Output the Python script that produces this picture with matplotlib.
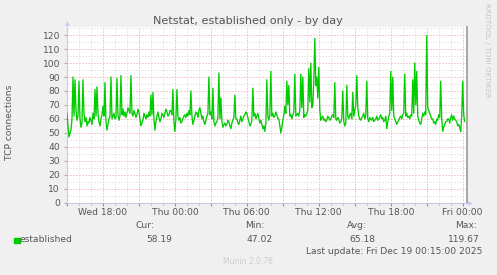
import datetime as dt
import matplotlib
matplotlib.use("Agg")
import matplotlib.pyplot as plt
import matplotlib.dates as mdates
from matplotlib.ticker import MultipleLocator, FuncFormatter

W, H = 497, 275

# data: established TCP connections, one sample every 5 minutes
start = dt.datetime(2025, 12, 17, 15, 0)
step_min = 5
established = [
    64, 55, 47.02, 50, 52, 60, 90, 62, 88, 66, 59, 62, 87, 60, 54, 57, 88, 64, 58, 61,
    55, 58, 57, 61, 59, 56, 64, 60, 81, 62, 83, 64, 58, 55, 60, 63, 69, 62, 86, 58,
    52, 56, 60, 62, 90, 60, 62, 64, 60, 61, 89, 63, 59, 62, 91, 63, 67, 62, 65, 61,
    64, 68, 66, 64, 91, 64, 62, 66, 64, 61, 63, 67, 65, 60, 55, 57, 59, 64, 62, 60,
    63, 61, 65, 62, 77, 63, 79, 60, 52, 58, 62, 65, 61, 58, 60, 64, 63, 61, 64, 67,
    65, 62, 63, 66, 66, 63, 81, 58, 51, 60, 81, 62, 59, 61, 57, 58, 60, 62, 63, 61,
    64, 62, 66, 63, 80, 62, 56, 59, 62, 65, 64, 61, 66, 68, 64, 60, 62, 58, 56, 59,
    62, 64, 90, 63, 65, 60, 82, 58, 55, 57, 58, 61, 93, 60, 75, 58, 54, 56, 57, 55,
    56, 59, 58, 55, 53, 57, 59, 61, 77, 60, 60, 57, 56, 59, 62, 58, 60, 62, 63, 65,
    64, 61, 58, 55, 56, 59, 82, 62, 64, 60, 62, 64, 60, 57, 59, 56, 53, 55, 51, 57,
    88, 62, 59, 63, 94, 62, 64, 61, 62, 65, 63, 60, 60, 55, 50, 54, 59, 63, 69, 64,
    87, 70, 84, 62, 63, 60, 63, 65, 92, 62, 63, 64, 62, 66, 92, 68, 90, 61, 63, 62,
    64, 66, 96, 72, 100, 68, 70, 88, 117.5, 84, 90, 75, 97, 66, 59, 61, 62, 59, 60, 58,
    59, 62, 61, 59, 60, 62, 63, 61, 86, 60, 59, 61, 60, 57, 58, 60, 80, 58, 55, 57,
    84, 62, 60, 63, 64, 60, 79, 62, 66, 70, 91, 68, 62, 60, 59, 61, 62, 64, 60, 62,
    87, 60, 58, 61, 60, 59, 61, 58, 59, 60, 62, 59, 60, 61, 63, 60, 61, 58, 59, 62,
    53, 58, 62, 64, 94, 66, 90, 62, 60, 58, 56, 58, 59, 61, 62, 60, 63, 64, 92, 62,
    64, 61, 62, 60, 63, 62, 88, 64, 100, 70, 94, 62, 59, 57, 56, 60, 64, 62, 65, 63,
    119.67, 68, 66, 64, 62, 60, 60, 57, 58, 56, 60, 59, 63, 61, 87, 60, 51, 54, 56, 58,
    58, 60, 60, 57, 61, 63, 59, 62, 60, 59, 58, 55, 56, 54, 51, 62, 87, 63, 58.19,
]
times = [start + dt.timedelta(minutes=step_min * i) for i in range(len(established))]

title = "Netstat, established only - by day"
ylabel = "TCP connections"
series_name = "established"
stat_names = ["Cur:", "Min:", "Avg:", "Max:"]
stat_values = ["58.19", "47.02", "65.18", "119.67"]
last_update = "Last update: Fri Dec 19 00:15:00 2025"

txt = "#555555"
fs = 6.6

fig = plt.figure(figsize=(W / 100, H / 100), dpi=100, facecolor="#F0F0F0")
ax = fig.add_axes([67 / W, 1 - 202.7 / H, 399.7 / W, 175.7 / H])
ax.set_facecolor("white")

ax.plot(times, established, color="#00CC00", lw=0.95, zorder=3)
ax.set_xlim(start, start + dt.timedelta(minutes=5 * 400))
ax.set_ylim(0, 125.8)

ax.xaxis.set_major_locator(mdates.HourLocator(byhour=range(0, 24, 3)))
ax.xaxis.set_minor_locator(mdates.HourLocator())


def xfmt(x, pos):
    d = mdates.num2date(x)
    return d.strftime("%a %H:%M") if d.hour % 6 == 0 else ""


ax.xaxis.set_major_formatter(FuncFormatter(xfmt))
ax.yaxis.set_major_locator(MultipleLocator(10))
ax.yaxis.set_minor_locator(MultipleLocator(5))

ax.set_axisbelow(True)
ax.grid(which="minor", color="#D4D4D4", linestyle=(0, (1, 2)), lw=0.72)
ax.grid(which="major", color="#EE9A9A", linestyle=(0, (1, 2)), lw=0.72)

ax.tick_params(which="both", direction="out", labelsize=fs, labelcolor=txt)
ax.tick_params(axis="x", which="major", length=2, color="#E07070", pad=2)
ax.tick_params(axis="x", which="minor", length=1.5, color="#BBBBBB")
ax.tick_params(axis="y", which="major", length=2, color="#AAAAAA", pad=3)
ax.tick_params(axis="y", which="minor", length=0)

ax.spines["top"].set_visible(False)
ax.spines["right"].set_color("#999999")
ax.spines["right"].set_linewidth(1.2)
for s in ("left", "bottom"):
    ax.spines[s].set_color("#C8C8F0")
    ax.spines[s].set_linewidth(0.8)

ax.plot([0], [1.022], marker="^", ms=3.5, color="#C8C8F0", mec="none",
        transform=ax.transAxes, clip_on=False)
ax.plot([1.009], [0], marker=">", ms=3.5, color="#C8C8F0", mec="none",
        transform=ax.transAxes, clip_on=False)


def ftext(x, y, s, **kw):
    kw.setdefault("fontsize", fs)
    kw.setdefault("color", txt)
    kw.setdefault("va", "center")
    fig.text(x / W, 1 - y / H, s, **kw)


ftext(248, 21, title, fontsize=8.1, ha="center")
ftext(10, 122, ylabel, rotation=90, ha="center")
ftext(487, 50, "RRDTOOL / TOBI OETIKER", rotation=270, ha="center",
      fontsize=5.3, color="#C4C4C4")

fig.patches.append(plt.Rectangle((14 / W, 1 - 243 / H), 5.5 / W, 5.5 / H,
                                 transform=fig.transFigure, color="#00CC00"))
ftext(20, 239.5, series_name, ha="left")

name_right = [155, 265, 367, 477]
value_right = [172, 273, 375, 480]
for n, v, xn, xv in zip(stat_names, stat_values, name_right, value_right):
    ftext(xn, 226, n, ha="right")
    ftext(xv, 239.5, v, ha="right")

ftext(482, 251.5, last_update, ha="right")
ftext(248, 262, "Munin 2.0.76", ha="center", fontsize=5.5, color="#CCCCCC")

fig.savefig("out.png", dpi=100, facecolor=fig.get_facecolor())
